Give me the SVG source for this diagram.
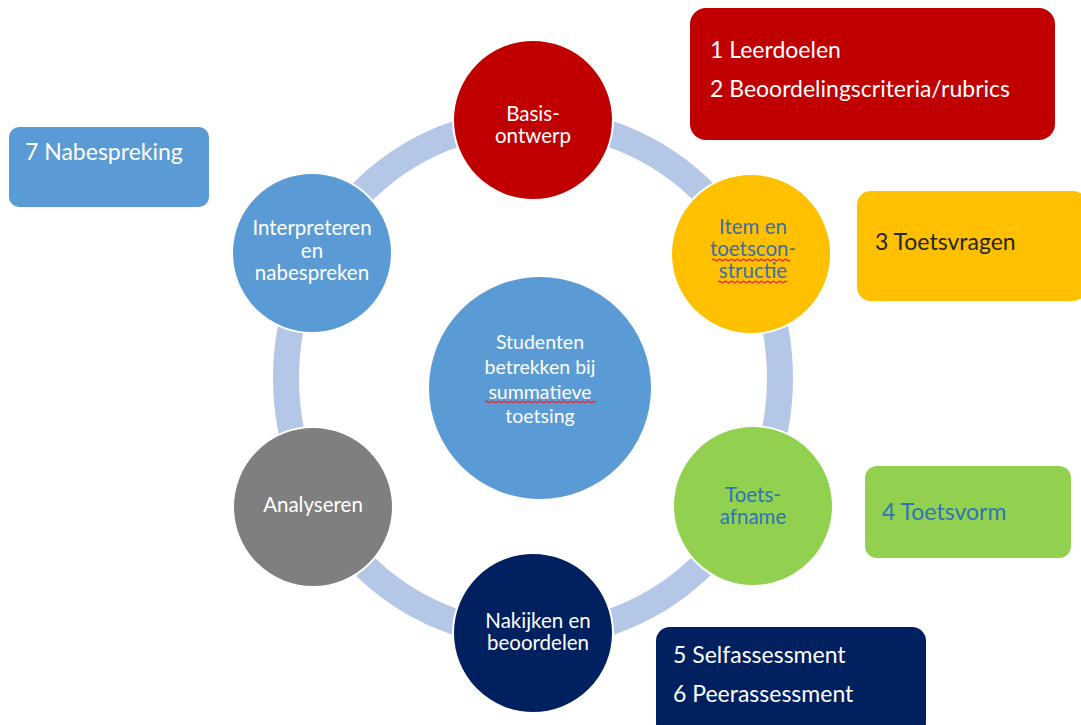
<svg xmlns="http://www.w3.org/2000/svg" width="1081" height="725" viewBox="0 0 1081 725">
  <style>
    text { font-family: Lato, "Open Sans", "Liberation Sans", sans-serif; }
    .node circle { stroke: #ffffff; stroke-width: 2; }
    .c { text-anchor: middle; font-size: 20.5px; }
    .mid { font-size: 19.5px; }
    .lbl { font-size: 23px; }
    .w { fill: #ffffff; }
    .spell { fill: none; stroke: #e0303a; stroke-width: 1.3; }
  </style>
  <rect x="0" y="0" width="1081" height="725" fill="#ffffff"/>

  <!-- cycle ring joining the six steps -->
  <g id="connectors">
    <ellipse cx="533" cy="378" rx="247" ry="257" fill="none" stroke="#b4c7e7" stroke-width="26"/>
  </g>

  <!-- centre -->
  <g id="center" class="node">
    <circle cx="540" cy="388" r="112" fill="#5b9bd5"/>
    <text class="c mid w" x="540" y="349">Studenten</text>
    <text class="c mid w" x="540" y="374">betrekken bij</text>
    <text class="c mid w" x="540" y="399">summatieve</text>
    <text class="c mid w" x="540" y="423">toetsing</text>
    <path class="spell" d="M485,402 q1.5,-1.5 3,0 t3,0 t3,0 t3,0 t3,0 t3,0 t3,0 t3,0 t3,0 t3,0 t3,0 t3,0 t3,0 t3,0 t3,0 t3,0 t3,0 t3,0 t3,0 t3,0 t3,0 t3,0 t3,0 t3,0 t3,0 t3,0 t3,0 t3,0 t3,0 t3,0 t3,0 t3,0 t3,0 t3,0 t3,0 t3,0 t3,0"/>
  </g>

  <!-- steps of the cycle -->
  <g id="basisontwerp" class="node">
    <circle cx="533" cy="120" r="80" fill="#c00000"/>
    <text class="c w" x="533" y="121">Basis-</text>
    <text class="c w" x="533" y="143">ontwerp</text>
  </g>

  <g id="itemconstructie" class="node">
    <circle cx="751" cy="254" r="80" fill="#ffc000"/>
    <text class="c" x="753" y="234" fill="#3f6ea6">Item en</text>
    <text class="c" x="753" y="256" fill="#3f6ea6">toetscon-</text>
    <text class="c" x="753" y="278" fill="#3f6ea6">structie</text>
    <path class="spell" d="M712,260 q1.5,-1.5 3,0 t3,0 t3,0 t3,0 t3,0 t3,0 t3,0 t3,0 t3,0 t3,0 t3,0 t3,0 t3,0 t3,0 t3,0 t3,0 t3,0 t3,0 t3,0 t3,0 t3,0 t3,0 t3,0 t3,0 t3,0 t3,0"/>
    <path class="spell" d="M718,282 q1.5,-1.5 3,0 t3,0 t3,0 t3,0 t3,0 t3,0 t3,0 t3,0 t3,0 t3,0 t3,0 t3,0 t3,0 t3,0 t3,0 t3,0 t3,0 t3,0 t3,0 t3,0 t3,0 t3,0 t3,0"/>
  </g>

  <g id="toetsafname" class="node">
    <circle cx="753" cy="506" r="80" fill="#92d050"/>
    <text class="c" x="753" y="502" fill="#2e75b6">Toets-</text>
    <text class="c" x="753" y="524" fill="#2e75b6">afname</text>
  </g>

  <g id="nakijken" class="node">
    <circle cx="533" cy="633" r="80" fill="#002060"/>
    <text class="c w" x="538" y="628">Nakijken en</text>
    <text class="c w" x="538" y="650">beoordelen</text>
  </g>

  <g id="analyseren" class="node">
    <circle cx="313" cy="507" r="80" fill="#7f7f7f"/>
    <text class="c w" x="313" y="512">Analyseren</text>
  </g>

  <g id="interpreteren" class="node">
    <circle cx="312" cy="253" r="80" fill="#5b9bd5"/>
    <text class="c w" x="312" y="235">Interpreteren</text>
    <text class="c w" x="312" y="258">en</text>
    <text class="c w" x="312" y="280">nabespreken</text>
  </g>

  <!-- side boxes -->
  <g id="box-leerdoelen">
    <rect x="690" y="8" width="365" height="132" rx="16" fill="#c00000"/>
    <text class="lbl w" x="710" y="58">1 Leerdoelen</text>
    <text class="lbl w" x="710" y="97">2 Beoordelingscriteria/rubrics</text>
  </g>

  <g id="box-toetsvragen">
    <rect x="857" y="191" width="230" height="110" rx="14" fill="#ffc000"/>
    <text class="lbl" x="875" y="250" fill="#262626">3 Toetsvragen</text>
  </g>

  <g id="box-toetsvorm">
    <rect x="865" y="466" width="206" height="92" rx="12" fill="#92d050"/>
    <text class="lbl" x="882" y="520" fill="#2e75b6">4 Toetsvorm</text>
  </g>

  <g id="box-assessment">
    <rect x="656" y="627" width="270" height="110" rx="14" fill="#002060"/>
    <text class="lbl w" x="673" y="663">5 Selfassessment</text>
    <text class="lbl w" x="673" y="702">6 Peerassessment</text>
  </g>

  <g id="box-nabespreking">
    <rect x="9" y="127" width="200" height="80" rx="10" fill="#5b9bd5"/>
    <text class="lbl w" x="25" y="160">7 Nabespreking</text>
  </g>
</svg>
